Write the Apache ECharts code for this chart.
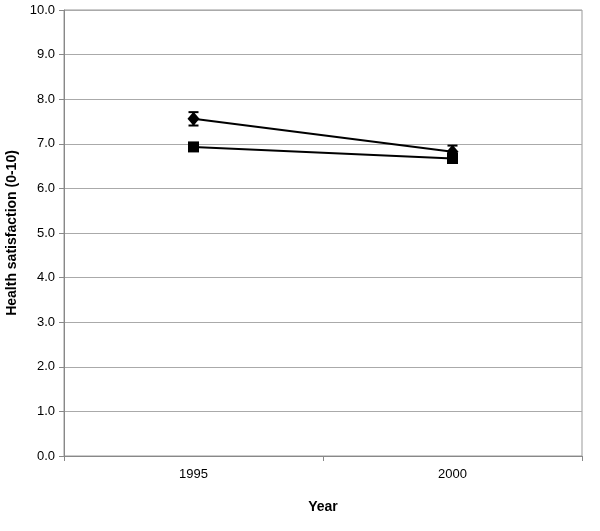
<!DOCTYPE html>
<html>
<head>
<meta charset="utf-8">
<script src="https://cdn.jsdelivr.net/npm/echarts@6/dist/echarts.min.js"></script>
<style>
html, body { margin: 0; padding: 0; background: #fff; }
#main { width: 600px; height: 531px; }
</style>
</head>
<body>
<div id="main"></div>
<script>
// data
var years = ['1995', '2000'];
var diamondVals = [7.56, 6.82];
var diamondErr = [0.15, 0.14];
var squareVals = [6.93, 6.67];
var squareErr = [0.06, 0.06];

var myChart = echarts.init(document.getElementById('main'));

function errorSeries(vals, errs) {
	var d = [];
	for (var i = 0; i < vals.length; i++) {
		d.push([i, vals[i] - errs[i], vals[i] + errs[i]]);
	}
	return {
		type: 'custom',
		z: 1,
		data: d,
		renderItem: function(params, api) {
			var lo = api.coord([api.value(0), api.value(1)]);
			var hi = api.coord([api.value(0), api.value(2)]);
			var w = 5;
			var st = { stroke: '#000', lineWidth: 2 };
			return {
				type: 'group',
				children: [
					{ type: 'line', shape: { x1: lo[0], y1: lo[1], x2: hi[0], y2: hi[1] }, style: st },
					{ type: 'line', shape: { x1: lo[0] - w, y1: lo[1], x2: lo[0] + w, y2: lo[1] }, style: st },
					{ type: 'line', shape: { x1: hi[0] - w, y1: hi[1], x2: hi[0] + w, y2: hi[1] }, style: st }
				]
			};
		}
	};
}

var option = {
	animation: false,
	backgroundColor: '#fff',
	grid: { left: 64, right: 18, top: 10, bottom: 75, outerBoundsMode: 'none', show: true, borderColor: '#999', borderWidth: 1 },
	xAxis: {
		type: 'category',
		data: years,
		boundaryGap: true,
		name: 'Year',
		nameLocation: 'middle',
		nameGap: 44,
		nameTextStyle: { fontFamily: 'Liberation Sans', fontWeight: 'bold', fontSize: 14, color: '#000' },
		axisLine: { lineStyle: { color: '#888', width: 1 } },
		axisTick: { show: true, length: 5, alignWithLabel: false, lineStyle: { color: '#888' } },
		axisLabel: { fontFamily: 'Liberation Sans', fontSize: 13, color: '#000', margin: 12 }
	},
	yAxis: {
		type: 'value',
		min: 0,
		max: 10,
		interval: 1,
		name: 'Health satisfaction (0-10)',
		nameLocation: 'middle',
		nameGap: 40,
		nameTextStyle: { fontFamily: 'Liberation Sans', fontWeight: 'bold', fontSize: 14, color: '#000' },
		axisLine: { show: true, lineStyle: { color: '#888', width: 1 } },
		axisTick: { show: true, length: 5, lineStyle: { color: '#888' } },
		axisLabel: {
			fontFamily: 'Liberation Sans', fontSize: 13, color: '#000', margin: 9,
			formatter: function(v) { return v.toFixed(1); }
		},
		splitLine: { show: true, lineStyle: { color: '#aaa', width: 1 } }
	},
	series: [
		errorSeries(diamondVals, diamondErr),
		errorSeries(squareVals, squareErr),
		{
			name: 'diamond',
			type: 'line',
			z: 3,
			data: diamondVals,
			symbol: 'diamond',
			symbolSize: [12, 14],
			itemStyle: { color: '#000' },
			lineStyle: { color: '#000', width: 2 }
		},
		{
			name: 'square',
			type: 'line',
			z: 3,
			data: squareVals,
			symbol: 'rect',
			symbolSize: 11,
			itemStyle: { color: '#000' },
			lineStyle: { color: '#000', width: 2 }
		}
	]
};

myChart.setOption(option);
</script>
</body>
</html>
